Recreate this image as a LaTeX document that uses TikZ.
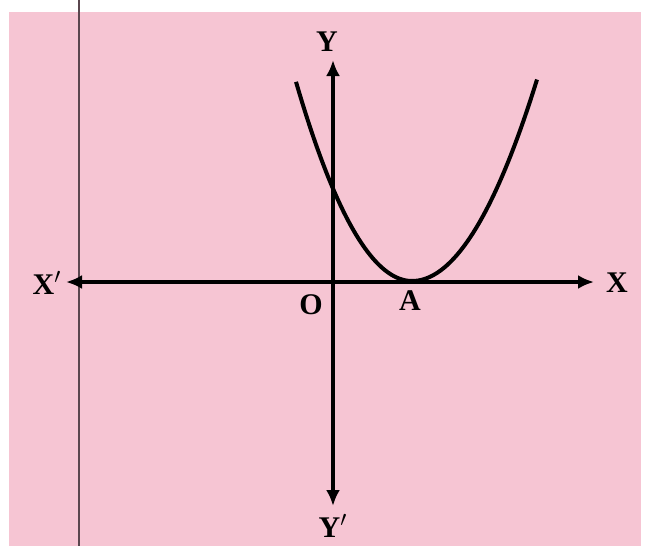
\documentclass[tikz,border=0pt]{standalone}
\usepackage{fontspec}
\setmainfont{Liberation Serif}
\usetikzlibrary{arrows.meta}
\definecolor{sheetpink}{RGB}{246,197,211}
\definecolor{scanline}{RGB}{90,70,78}
\tikzset{
  axis/.style={{Latex[length=8pt,width=7pt]}-{Latex[length=8pt,width=7pt]}, line width=2pt, draw=black},
  curve/.style={line width=2pt, draw=black, line join=round},
  lbl/.style={font=\fontsize{15}{17}\selectfont\bfseries, inner sep=1pt},
}
\begin{document}
\begin{tikzpicture}[x=0.5pt, y=-0.5pt]
  \useasboundingbox (0,0) rectangle (648,552);
  \fill[sheetpink] (9,12) rectangle (641,546);
  \draw[scanline, line width=1pt] (79,0) -- (79,546);

  \coordinate (o) at (333,282);
  \coordinate (xl) at (66,282);
  \coordinate (xr) at (594,282);
  \coordinate (yt) at (333,60);
  \coordinate (yb) at (333,506);

  \draw[axis] (xl) -- (xr);
  \draw[axis] (yb) -- (yt);

  \draw[curve] plot[domain=-116:0, samples=40] ({412+\x},{281-0.0148*\x*\x})
    -- plot[domain=0:125, samples=40] ({412+\x},{281-0.0129*\x*\x});

  \node[lbl] (xlab) at (47,283) {X$'$};
  \node[lbl] (xrlab) at (617,283) {X};
  \node[lbl] (ylab) at (327,42) {Y};
  \node[lbl] (yblab) at (333,526) {Y$'$};
  \node[lbl] (olab) at (311,305) {O};
  \node[lbl] (alab) at (410,301) {A};
\end{tikzpicture}
\end{document}
